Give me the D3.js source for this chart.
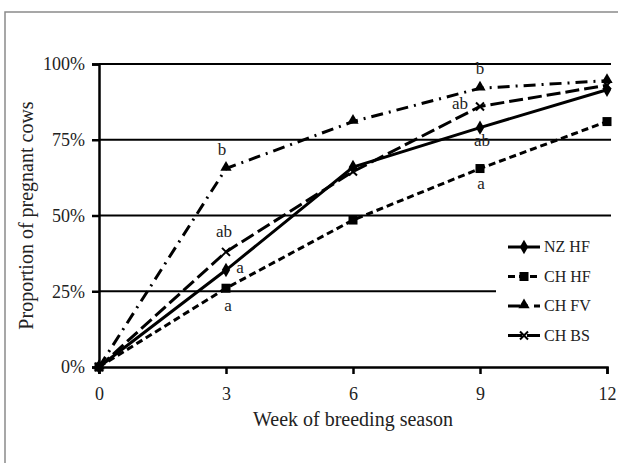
<!DOCTYPE html>
<html>
<head>
<meta charset="utf-8">
<script src="https://cdn.jsdelivr.net/npm/d3@7/dist/d3.min.js"></script>
<style>
  body { margin: 0; background: #fff; }
  svg text { font-family: "Liberation Serif", "Times New Roman", serif; fill: #222; }
</style>
</head>
<body>
<div id="chart"></div>
<script>
var width = 618,
    height = 463;

// data
var weeks = [0, 3, 6, 9, 12];
var nzHF = [0, 32, 66, 79, 91.5];
var chHF = [0, 26, 48.5, 65.5, 81];
var chFV = [0, 65.5, 81, 92, 94.5];
var chBS = [0, 38, 64.5, 86, 93];
var yTicks = [0, 25, 50, 75, 100];
var xTicks = [0, 3, 6, 9, 12];

// significance letters: [series, week, letter]
var letters = [
  ["CH FV", 3, "b"], ["CH BS", 3, "ab"], ["NZ HF", 3, "a"], ["CH HF", 3, "a"],
  ["CH FV", 9, "b"], ["CH BS", 9, "ab"], ["NZ HF", 9, "ab"], ["CH HF", 9, "a"]
];

var series = [
  { name: "NZ HF", values: nzHF, dash: null, marker: "diamond" },
  { name: "CH HF", values: chHF, dash: "7,4", marker: "square" },
  { name: "CH FV", values: chFV, dash: "12,6,2,6", marker: "triangle" },
  { name: "CH BS", values: chBS, dash: "14,5", marker: "cross" }
];

var margin = { top: 64, left: 99, right: 11, bottom: 96 };

var x = d3.scaleLinear()
    .domain([0, 12])
    .range([margin.left, width - margin.right]);

var y = d3.scaleLinear()
    .domain([0, 100])
    .range([height - margin.bottom, margin.top]);

var svg = d3.select("#chart").append("svg")
    .attr("width", width)
    .attr("height", height);

// outer frame
svg.append("rect")
    .attr("x", 5).attr("y", 12)
    .attr("width", 630).attr("height", 470)
    .attr("fill", "none")
    .attr("stroke", "#8a8a8a")
    .attr("stroke-width", 1.5);

// gridlines
svg.append("g")
  .selectAll("line")
  .data(yTicks.filter(function(d) { return d > 0; }))
  .enter().append("line")
    .attr("x1", x(0)).attr("x2", x(12) + 4)
    .attr("y1", function(d) { return y(d); })
    .attr("y2", function(d) { return y(d); })
    .attr("stroke", "#000")
    .attr("stroke-width", 2);

// axes
var yAxis = svg.append("g")
    .attr("transform", "translate(" + x(0) + ",0)")
    .call(d3.axisLeft(y).tickValues(yTicks).tickFormat(function(d) { return d + "%"; }).tickSizeOuter(0).tickSize(7).tickPadding(7));

var xAxis = svg.append("g")
    .attr("transform", "translate(0," + y(0) + ")")
    .call(d3.axisBottom(x).tickValues(xTicks).tickSizeOuter(0).tickSize(7).tickPadding(13));

[yAxis, xAxis].forEach(function(a) {
  a.select(".domain").attr("stroke", "#000").attr("stroke-width", 2.5);
  a.selectAll(".tick line").attr("stroke", "#000").attr("stroke-width", 2.5);
  a.selectAll(".tick text").attr("font-size", 18).attr("fill", "#222")
    .attr("font-family", "Liberation Serif");
});

svg.append("text")
    .attr("x", (x(0) + x(12)) / 2).attr("y", 426)
    .attr("text-anchor", "middle")
    .attr("font-size", 20)
    .text("Week of breeding season");

svg.append("text")
    .attr("transform", "translate(33," + ((y(0) + y(100)) / 2) + ") rotate(-90)")
    .attr("text-anchor", "middle")
    .attr("font-size", 20)
    .text("Proportion of pregnant cows");

// markers
function marker(g, type, cx, cy) {
  if (type == "diamond") {
    g.append("path").attr("d", d3.symbol(d3.symbolDiamond, 60)())
      .attr("transform", "translate(" + cx + "," + cy + ")").attr("fill", "#000");
  } else if (type == "square") {
    g.append("rect").attr("x", cx - 4.5).attr("y", cy - 4.5)
      .attr("width", 9).attr("height", 9).attr("fill", "#000");
  } else if (type == "triangle") {
    g.append("path").attr("d", d3.symbol(d3.symbolTriangle, 55)())
      .attr("transform", "translate(" + cx + "," + (cy - 1) + ")").attr("fill", "#000");
  } else {
    g.append("path").attr("d", "M-4,-4L4,4M-4,4L4,-4")
      .attr("transform", "translate(" + cx + "," + cy + ")")
      .attr("stroke", "#000").attr("stroke-width", 2).attr("fill", "none");
  }
}

var line = d3.line()
    .x(function(d) { return x(d[0]); })
    .y(function(d) { return y(d[1]); });

var lines = svg.append("g");
series.slice().reverse().forEach(function(s) {
  var pts = weeks.map(function(w, i) { return [w, s.values[i]]; });
  var g = lines.append("g");
  g.append("path")
    .datum(pts)
    .attr("d", line)
    .attr("fill", "none")
    .attr("stroke", "#000")
    .attr("stroke-width", 3)
    .attr("stroke-dasharray", s.dash);
  pts.forEach(function(p) { marker(g, s.marker, x(p[0]), y(p[1])); });
});

// significance letters
var offsets = {
  "CH FV": [-4, -19], "CH BS": [-2, -20], "NZ HF": [14, -2], "CH HF": [2, 18]
};
var offsets9 = {
  "CH FV": [0, -19], "CH BS": [-20, -2], "NZ HF": [2, 13], "CH HF": [1, 15]
};
letters.forEach(function(l) {
  var s = series.filter(function(d) { return d.name == l[0]; })[0];
  var v = s.values[weeks.indexOf(l[1])];
  var o = l[1] == 3 ? offsets[l[0]] : offsets9[l[0]];
  svg.append("text")
    .attr("x", x(l[1]) + o[0])
    .attr("y", y(v) + o[1] + 5)
    .attr("text-anchor", "middle")
    .attr("font-size", 17)
    .text(l[2]);
});

// legend
var legend = svg.append("g");
legend.append("rect")
    .attr("x", 496).attr("y", 234)
    .attr("width", 118).attr("height", 116)
    .attr("fill", "#fff");
series.forEach(function(s, i) {
  var ly = 247 + i * 29.5;
  var g = legend.append("g");
  g.append("line")
    .attr("x1", 508).attr("x2", 540)
    .attr("y1", ly).attr("y2", ly)
    .attr("stroke", "#000").attr("stroke-width", 3)
    .attr("stroke-dasharray", s.dash);
  marker(g, s.marker, 524, ly);
  g.append("text")
    .attr("x", 544).attr("y", ly + 5)
    .attr("font-size", 16)
    .text(s.name);
});
</script>
</body>
</html>
